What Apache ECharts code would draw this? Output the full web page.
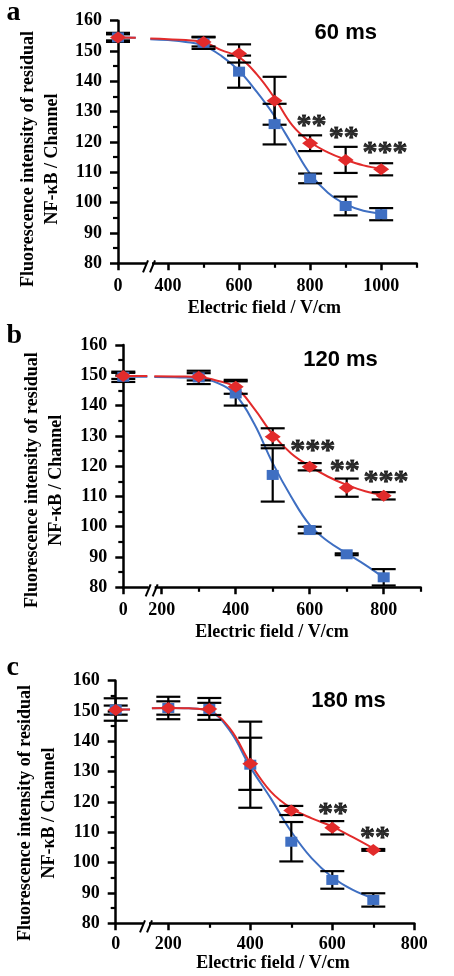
<!DOCTYPE html>
<html><head><meta charset="utf-8">
<script src="https://cdn.jsdelivr.net/npm/echarts@6/dist/echarts.min.js"></script>
<style>html,body{margin:0;padding:0;background:#fff}#c{width:454px;height:976px}</style>
</head><body><div id="c"></div>
<script>
// ---------- Panel a : 60 ms ----------
const aX        = [0, 500, 600, 700, 800, 900, 1000];
const aBlue     = [154.5, 152.7, 143.2, 125.9, 108.0, 98.9, 96.2];
const aBlueErr  = [1.5, 2.0, 5.3, 6.7, 1.6, 3.1, 2.0];
const aRed      = [154.5, 153.0, 149.2, 133.6, 119.6, 114.1, 111.0];
const aRedErr   = [1.0, 1.5, 3.0, 7.9, 2.6, 4.3, 2.0];
const aCurveX   = [0, 50, 350, 400, 450, 500, 550, 600, 650, 700, 750, 800, 850, 900, 950, 1000];
const aBlueCurve= [154.5, 154.4, 153.9, 153.6, 153.0, 151.8, 148.4, 143.5, 136.5, 128.5, 119.0, 109.5, 103.3, 99.5, 97.3, 96.4];
const aRedCurve = [154.5, 154.4, 154.1, 153.9, 153.6, 153.0, 150.3, 148.0, 142.3, 134.5, 125.5, 120.0, 116.6, 114.2, 112.3, 111.2];
const aStarX    = [804, 895, 1011];
const aStarY    = [127.0, 123.0, 118.0];
const aStarText = ['**', '**', '***'];
const aTicks    = [0, 400, 600, 800, 1000];
const aMinor    = [500, 700, 900, 1100];
const aXMax     = 1100;

// ---------- Panel b : 120 ms ----------
const bX        = [0, 300, 400, 500, 600, 700, 800];
const bBlue     = [149.5, 149.3, 144.0, 117.1, 98.9, 90.9, 83.3];
const bBlueErr  = [1.7, 2.2, 4.0, 8.8, 1.1, 0.3, 2.7];
const bRed      = [149.8, 149.5, 146.2, 129.7, 119.8, 112.9, 110.2];
const bRedErr   = [1.0, 1.2, 2.3, 2.8, 1.2, 3.0, 1.2];
const bCurveX   = [0, 65, 180, 250, 300, 350, 400, 450, 500, 550, 600, 650, 700, 750, 800];
const bBlueCurve= [149.5, 149.5, 149.4, 149.3, 149.0, 147.5, 143.5, 134.0, 121.0, 109.9, 100.6, 95.1, 91.2, 87.4, 83.2];
const bRedCurve = [149.8, 149.8, 149.7, 149.6, 149.4, 148.2, 146.0, 139.0, 130.5, 124.2, 120.0, 116.5, 113.8, 111.7, 110.4];
const bStarX    = [608, 695, 806];
const bStarY    = [126.7, 120.1, 116.2];
const bStarText = ['***', '**', '***'];
const bTicks    = [0, 200, 400, 600, 800];
const bMinor    = [300, 500, 700, 900];
const bXMax     = 900;

// ---------- Panel c : 180 ms ----------
const cX        = [0, 200, 300, 400, 500, 600, 700];
const cBlue     = [150.5, 151.0, 150.7, 132.3, 106.9, 94.3, 87.7];
const cBlueErr  = [3.7, 3.7, 3.6, 14.2, 6.5, 2.9, 2.2];
const cRed      = [150.3, 151.0, 150.7, 132.6, 117.2, 111.5, 104.2];
const cRedErr   = [1.5, 2.2, 2.0, 8.6, 1.5, 2.2, 0.3];
const cCurveX   = [0, 35, 160, 200, 250, 300, 350, 400, 450, 500, 550, 600, 650, 700];
const cBlueCurve= [150.5, 150.5, 150.9, 151.0, 150.9, 150.0, 143.5, 131.5, 121.2, 110.2, 101.4, 95.2, 91.0, 88.2];
const cRedCurve = [150.5, 150.5, 150.9, 151.0, 150.9, 150.0, 144.3, 132.8, 123.4, 117.9, 114.6, 111.9, 108.4, 104.7];
const cStarX    = [602, 704];
const cStarY    = [117.6, 109.7];
const cStarText = ['**', '**'];
const cTicks    = [0, 200, 400, 600, 800];
const cMinor    = [300, 500, 700];
const cXMax     = 800;

const titles  = ['60 ms', '120 ms', '180 ms'];
const letters = ['a', 'b', 'c'];
const yName = 'Fluorescence intensity of residual\nNF-\u03baB / Channel';
const xName = 'Electric field / V/cm';

// ---------- layout (positions / styles only) ----------
const BLUE = '#3F6FC2', RED = '#E22B2B';
const SERIF = '"Liberation Serif","Times New Roman",serif';
const SANS = '"Liberation Sans",Arial,sans-serif';
const layouts = [
  {left:118, top:20.7, width:298.7, height:242.6, t0:259.2, brk:346.5, yGap:49, yPad:34, xGap:36, xPad:[0,6,0,0], lm:14, tx:345.8, ty:32.5, ly:12.5},
  {left:123.3, top:345, width:297.4, height:242.3, t0:96.2, brk:172.9, yGap:54.5, yPad:28, xGap:36, xPad:[0,0,0,0], lm:14.5, tx:340.5, ty:359.5, ly:336},
  {left:115.7, top:680.7, width:298.6, height:242.6, t0:71.7, brk:145.6, yGap:47, yPad:22, xGap:31, xPad:[0,0,0,16], lm:12.5, tx:348.5, ty:700.8, ly:668}
];
const panels = [
  {x:aX, blue:aBlue, blueErr:aBlueErr, red:aRed, redErr:aRedErr, cx:aCurveX, bc:aBlueCurve, rc:aRedCurve, sx:aStarX, sy:aStarY, st:aStarText, ticks:aTicks, minor:aMinor, xMax:aXMax},
  {x:bX, blue:bBlue, blueErr:bBlueErr, red:bRed, redErr:bRedErr, cx:bCurveX, bc:bBlueCurve, rc:bRedCurve, sx:bStarX, sy:bStarY, st:bStarText, ticks:bTicks, minor:bMinor, xMax:bXMax},
  {x:cX, blue:cBlue, blueErr:cBlueErr, red:cRed, redErr:cRedErr, cx:cCurveX, bc:cBlueCurve, rc:cRedCurve, sx:cStarX, sy:cStarY, st:cStarText, ticks:cTicks, minor:cMinor, xMax:cXMax}
];

const grid = [], xAxis = [], yAxis = [], series = [], graphic = [];

function errRender(params, api) {
  const x = api.value(0), lo = api.value(1), hi = api.value(2);
  const a = api.coord([x, hi]), b = api.coord([x, lo]);
  const hw = 12, st = {stroke:'#000', lineWidth:2.2};
  return {type:'group', children:[
    {type:'line', shape:{x1:a[0], y1:a[1], x2:b[0], y2:b[1]}, style:st},
    {type:'line', shape:{x1:a[0]-hw, y1:a[1], x2:a[0]+hw, y2:a[1]}, style:st},
    {type:'line', shape:{x1:b[0]-hw, y1:b[1], x2:b[0]+hw, y2:b[1]}, style:st}
  ]};
}
function breakRender(params, api) {
  const p = api.coord([api.value(0), api.value(1)]);
  const x = p[0], y = p[1];
  const st = {stroke:'#000', lineWidth:2};
  return {type:'group', children:[
    {type:'rect', shape:{x:x-3, y:y-2.5, width:6, height:5}, style:{fill:'#fff'}},
    {type:'line', shape:{x1:x-6, y1:y+9, x2:x-1, y2:y-3}, style:st},
    {type:'line', shape:{x1:x+1, y1:y+9, x2:x+6, y2:y-3}, style:st}
  ]};
}

panels.forEach((P, i) => {
  const L = layouts[i];
  const tx = v => (v < 150 ? v + L.t0 : v);
  grid.push({left:L.left, top:L.top, width:L.width, height:L.height, containLabel:false, outerBoundsMode:'none'});
  const majorT = P.ticks.map(tx);
  const labelFont = {fontFamily:SERIF, fontWeight:'bold', fontSize:18, color:'#000'};
  xAxis.push({
    gridIndex:i, type:'value', min:L.t0, max:P.xMax, position:'bottom',
    axisLine:{onZero:false, lineStyle:{color:'#000', width:2.5}},
    axisTick:{customValues:majorT, length:7, lineStyle:{color:'#000', width:2.5}},
    axisLabel:Object.assign({customValues:majorT, margin:L.lm,
      formatter:v => { const k = majorT.findIndex(m => Math.abs(m - v) < 1e-6); return k >= 0 ? String(P.ticks[k]) : ''; }}, labelFont),
    splitLine:{show:false},
    name:xName, nameLocation:'middle', nameGap:L.xGap,
    nameTextStyle:Object.assign({padding:L.xPad}, labelFont)
  });
  xAxis.push({
    gridIndex:i, type:'value', min:L.t0, max:P.xMax, position:'bottom', offset:0,
    axisLine:{show:false, onZero:false},
    axisTick:{customValues:P.minor.map(tx), length:4.5, lineStyle:{color:'#000', width:2.2}},
    axisLabel:{show:false}, splitLine:{show:false}
  });
  yAxis.push({
    gridIndex:i, type:'value', min:80, max:160, interval:10,
    axisLine:{show:true, onZero:false, lineStyle:{color:'#000', width:2.5}},
    axisTick:{show:true, inside:false, length:8, lineStyle:{color:'#000', width:2.5}},
    minorTick:{show:true, splitNumber:2, length:5, lineStyle:{color:'#000', width:2.2}},
    splitLine:{show:false},
    axisLabel:Object.assign({margin:16}, labelFont),
    name:yName, nameLocation:'middle', nameGap:L.yGap,
    nameTextStyle:Object.assign({lineHeight:24, padding:[0, L.yPad, 0, 0]}, labelFont)
  });
  const xi = i * 2, yi = i;
  const curve = (vals) => {
    const out = [];
    P.cx.forEach((x, k) => {
      if (k > 0 && P.cx[k-1] < 150 && x >= 150) out.push([ (tx(P.cx[k-1]) + tx(x)) / 2, '-' ]);
      out.push([tx(x), vals[k]]);
    });
    return out;
  };
  const lineBase = {type:'line', xAxisIndex:xi, yAxisIndex:yi, showSymbol:false, symbol:'none', smooth:0.4, connectNulls:false, z:2, silent:true, animation:false};
  series.push(Object.assign({}, lineBase, {data:curve(P.bc), lineStyle:{color:BLUE, width:2}}));
  series.push(Object.assign({}, lineBase, {data:curve(P.rc), lineStyle:{color:RED, width:2}}));
  const errData = (v, e) => P.x.map((x, k) => [tx(x), v[k] - e[k], v[k] + e[k]]);
  series.push({type:'custom', xAxisIndex:xi, yAxisIndex:yi, renderItem:errRender, encode:{x:0, y:[1,2]}, data:errData(P.blue, P.blueErr), clip:false, z:3, silent:true, animation:false});
  series.push({type:'custom', xAxisIndex:xi, yAxisIndex:yi, renderItem:errRender, encode:{x:0, y:[1,2]}, data:errData(P.red, P.redErr), clip:false, z:3, silent:true, animation:false});
  series.push({type:'scatter', xAxisIndex:xi, yAxisIndex:yi, symbol:'rect', symbolSize:[12,10], itemStyle:{color:BLUE, opacity:1}, data:P.x.map((x,k)=>[tx(x), P.blue[k]]), z:4, silent:true, animation:false});
  series.push({type:'scatter', xAxisIndex:xi, yAxisIndex:yi, symbol:'diamond', symbolSize:[16,12], itemStyle:{color:RED, opacity:1}, data:P.x.map((x,k)=>[tx(x), P.red[k]]), z:5, silent:true, animation:false});
  series.push({type:'scatter', xAxisIndex:xi, yAxisIndex:yi, symbolSize:1, itemStyle:{color:'rgba(0,0,0,0)'},
    data:P.sx.map((x,k)=>[x, P.sy[k]]),
    label:{show:true, position:'inside', offset:[0,5], formatter:p => P.st[p.dataIndex], fontFamily:SERIF, fontWeight:'bold', fontSize:30, color:'#000', textBorderColor:'#000', textBorderWidth:0.8},
    z:6, silent:true, animation:false});
  series.push({type:'custom', xAxisIndex:xi, yAxisIndex:yi, renderItem:breakRender, encode:{x:0, y:1}, data:[[L.brk, 80]], clip:false, z:7, silent:true, animation:false});
  graphic.push({type:'text', x:L.tx, y:L.ty, style:{text:titles[i], x:0, y:0, align:'center', verticalAlign:'middle', font:'bold 22px ' + SANS, fill:'#000'}});
  graphic.push({type:'text', x:6.5, y:L.ly, style:{text:letters[i], align:'left', verticalAlign:'middle', font:'bold 28px ' + SERIF, fill:'#000'}});
});

const chart = echarts.init(document.getElementById('c'), null, {renderer:'canvas'});
chart.setOption({animation:false, backgroundColor:'#fff', grid, xAxis, yAxis, series, graphic});
</script></body></html>
